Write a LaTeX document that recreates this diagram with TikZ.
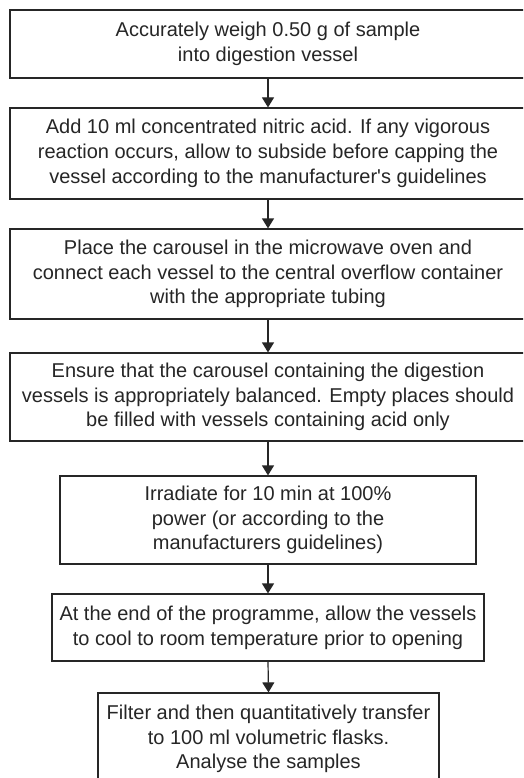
\documentclass[tikz,border=0pt]{standalone}
\usepackage{fontspec}
\setmainfont{Liberation Sans}
\usetikzlibrary{arrows.meta}
\definecolor{ink}{HTML}{262626}
\begin{document}
\begin{tikzpicture}[x=1pt,y=-1pt,
  stepbox/.style={draw=ink,line width=1.2pt,text=ink,align=center,inner sep=0pt,
    font=\fontsize{20}{24.8}\selectfont},
  flow/.style={draw=ink,line width=1.2pt,-{Triangle[width=12pt,length=10pt]}}]
\useasboundingbox (0,0) rectangle (523,778);
\clip (0,0) rectangle (523,778);
\fill[white] (0,0) rectangle (523,778);
\node[stepbox,minimum width=516pt,minimum height=68pt] (b1) at (268,44)
  {Accurately weigh 0.50 g of sample\\into digestion vessel};
\node[stepbox,minimum width=516pt,minimum height=91pt] (b2) at (268,153.5)
  {Add 10 ml concentrated nitric acid. If any vigorous\\reaction occurs, allow to subside before capping the\\vessel according to the manufacturer\textquotesingle s guidelines};
\node[stepbox,minimum width=516pt,minimum height=90pt] (b3) at (268,274)
  {Place the carousel in the microwave oven and\\connect each vessel to the central overflow container\\with the appropriate tubing};
\node[stepbox,minimum width=516pt,minimum height=88pt] (b4) at (268,397)
  {Ensure that the carousel containing the digestion\\vessels is appropriately balanced. Empty places should\\be filled with vessels containing acid only};
\node[stepbox,minimum width=416pt,minimum height=88pt] (b5) at (268,520)
  {Irradiate for 10 min at 100\%\\power (or according to the\\manufacturers guidelines)};
\node[stepbox,minimum width=432pt,minimum height=67pt] (b6) at (268,627.5)
  {At the end of the programme, allow the vessels\\to cool to room temperature prior to opening};
\node[stepbox,minimum width=341pt,minimum height=92pt] (b7) at (268.5,739)
  {Filter and then quantitatively transfer\\to 100 ml volumetric flasks.\\Analyse the samples};
\draw[flow] (b1.south) -- (b2.north);
\draw[flow] (b2.south) -- (b3.north);
\draw[flow] (b3.south) -- (b4.north);
\draw[flow] (b4.south) -- (b5.north);
\draw[flow] (b5.south) -- (b6.north);
\draw[flow] (b6.south) -- (b7.north);
\end{tikzpicture}
\end{document}
